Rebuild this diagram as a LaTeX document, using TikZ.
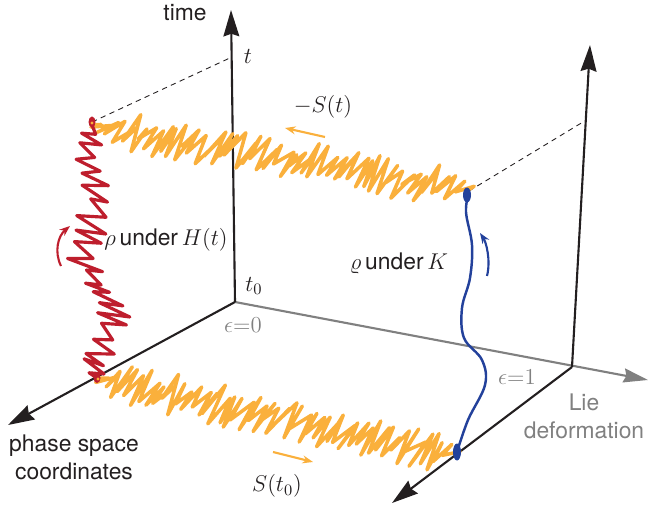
\RequirePackage{fix-cm}
\documentclass[tikz,border=0pt]{standalone}
\usepackage{fontspec}
\setsansfont{TeX Gyre Heros}
\usetikzlibrary{arrows.meta,calc}
\definecolor{orng}{RGB}{250,176,60}
\definecolor{redc}{RGB}{190,30,45}
\definecolor{bluec}{RGB}{35,65,155}
\definecolor{grayc}{RGB}{128,128,128}
\definecolor{txt}{RGB}{35,31,32}
\begin{document}
\begin{tikzpicture}[x=0.02cm,y=-0.02cm,
  axis/.style={line width=1.2pt, draw=txt, -{Stealth[length=15pt,width=9pt,inset=1.5pt]}},
  gaxis/.style={line width=1.2pt, draw=grayc, -{Stealth[length=14pt,width=8pt,inset=1.5pt]}},
  dashline/.style={draw=txt, line width=0.5pt, dash pattern=on 3pt off 2.5pt},
  wig/.style={line width=2pt, line join=round, line cap=round},
  small/.style={line width=1.2pt, -{Stealth[length=6pt,width=4.5pt]}},
  lbl/.style={font=\fontsize{13}{16}\selectfont\sffamily, text=txt, inner sep=0pt},
  glbl/.style={font=\fontsize{13}{16}\selectfont\sffamily, text=grayc, inner sep=0pt},
]
\useasboundingbox (0,0) rectangle (649,513);
\pgfmathsetseed{4321}
% axis points
\coordinate (O) at (235,302);
\coordinate (Ot) at (231,10);
\coordinate (P) at (8,425);
\coordinate (R) at (572,367);
\coordinate (Rt) at (590,45);
\coordinate (RP) at (392,503);
\coordinate (L) at (648,380);
\coordinate (T) at (232,57);
\coordinate (T2) at (583,122);
\coordinate (Rtop) at (92,122);
\coordinate (Rbot) at (97,378);
\coordinate (Btop) at (469,191);
\coordinate (Bbot) at (457,452);
% axes
\draw[gaxis] (O) -- (L);
\draw[axis] (O) -- (Ot);
\draw[axis] (O) -- (P);
\draw[axis] (R) -- (Rt);
\draw[axis] (R) -- (RP);
% dashed
\draw[dashline] (Rtop) -- (T);
\draw[dashline] (Btop) -- (T2);
% orange top
\draw[wig, orng] (92,125) \foreach \i in {1,...,99} { -- ({92+(\i/100)*376 + 8*(mod(\i,2)*2-1) + 3*rand}, {125+(\i/100)*65 - (mod(\i,2)*2-1)*(4+16*rnd)*min(1,min(\i/12,(100-\i)/6))}) } -- (468,190);
% orange bottom
\draw[wig, orng] (97,378) \foreach \i in {1,...,99} { -- ({97+(\i/100)*358 + 8*(mod(\i,2)*2-1) + 3*rand}, {378+(\i/100)*77 - (mod(\i,2)*2-1)*(4+16*rnd)*min(1,min(\i/8,(100-\i)/6))}) } -- (455,455);
% red
\draw[wig, redc, line width=1.8pt] (92,125) \foreach \ax/\ay/\bx/\by in {92/125/84/147, 84/147/95/175, 95/175/95/205, 95/205/88/235, 88/235/84/260, 84/260/100/285, 100/285/115/305, 115/305/111/330, 111/330/100/355, 100/355/97/376} { \foreach \j in {1,...,4} { -- ({\ax+(\bx-\ax)*\j/4 + (mod(\j,2)*2-1)*(4+13*rnd)}, {\ay+(\by-\ay)*\j/4 + (mod(\j,2)*2-1)*4 + 3*rand}) } } -- (97,378);
% drops
\fill[redc] (Rtop) ellipse (3.5 and 5.5);
\fill[orng] (92,123) circle (1.6);
\fill[redc] (Rbot) ellipse (3.5 and 5);
\fill[orng] (98,379) circle (1.6);
% blue
\draw[bluec, line width=1.4pt] plot[smooth, tension=0.6] coordinates {(Bbot) (468,420) (485,385) (482,360) (464,338) (462,308) (470,278) (472,245) (466,212) (Btop)};
\fill[bluec] (467,195) ellipse (4 and 7.5);
\fill[bluec] (Bbot) ellipse (4 and 8.5);
% small arrows
\coordinate (ra1) at (61,266); \coordinate (ra2) at (70,226);
\draw[small, redc] (ra1) .. controls (54,252) and (58,236) .. (ra2);
\coordinate (ba1) at (487,276); \coordinate (ba2) at (480,233);
\draw[small, bluec] (ba1) .. controls (491,260) and (486,242) .. (ba2);
\coordinate (oa1) at (325,137); \coordinate (oa2) at (285,128);
\draw[small, orng] (oa1) -- (oa2);
\coordinate (ob1) at (273,452); \coordinate (ob2) at (313,462);
\draw[small, orng] (ob1) -- (ob2);
% labels
\node[lbl] (time) at (185,13) {time};
\node[lbl] (tl) at (248,56) {$t$};
\node[lbl] (t0l) at (254,286) {$t_0$};
\node[glbl] (e0) at (243,325) {$\epsilon{=}0$};
\node[glbl] (e1) at (517,377) {$\epsilon{=}1$};
\node[lbl] (mS) at (323,107) {$-S(t)$};
\node[lbl] (S0) at (277,486) {$S(t_0)$};
\node[lbl] (rho) at (166,240) {$\rho\,$under$\,H(t)$};
\node[lbl] (vrho) at (399,263) {$\varrho\,$under$\,K$};
\node[glbl, align=center] (lie) at (584,416) {Lie\\deformation};
\node[lbl, align=center] (psc) at (74,457) {phase space\\coordinates};
\end{tikzpicture}
\end{document}
